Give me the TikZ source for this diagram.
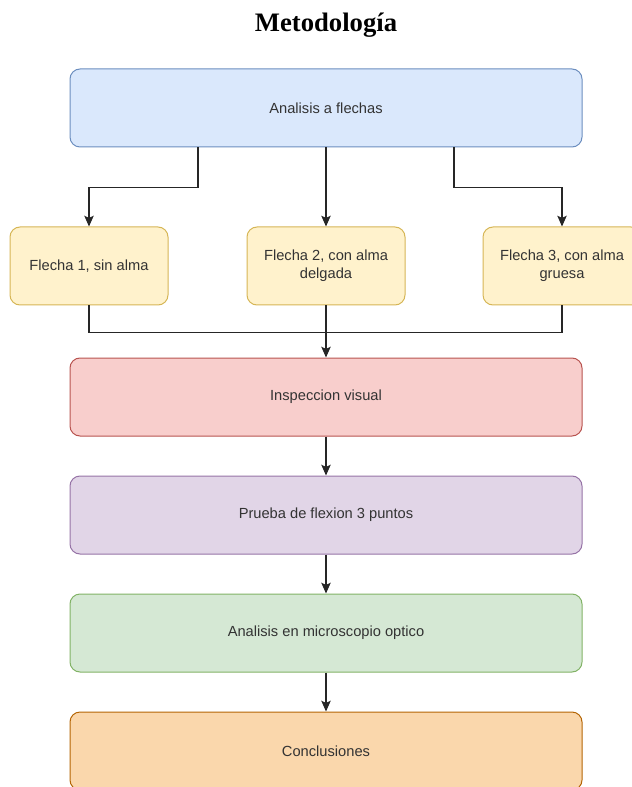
\documentclass[tikz,border=0pt]{standalone}
\usepackage{fontspec}
\setmainfont{Liberation Serif}
\setsansfont{Liberation Sans}
\usepackage{xcolor}
\usetikzlibrary{arrows.meta, positioning, calc}
\definecolor{cblue}{HTML}{DAE8FC}
\definecolor{cbluel}{HTML}{6C8EBF}
\definecolor{cyellow}{HTML}{FFF2CC}
\definecolor{cyellowl}{HTML}{D6B656}
\definecolor{cred}{HTML}{F8CECC}
\definecolor{credl}{HTML}{B85450}
\definecolor{cpurple}{HTML}{E1D5E7}
\definecolor{cpurplel}{HTML}{9673A6}
\definecolor{cgreen}{HTML}{D5E8D4}
\definecolor{cgreenl}{HTML}{82B366}
\definecolor{corange}{HTML}{FAD7AC}
\definecolor{corangel}{HTML}{B46504}
\begin{document}
\begin{tikzpicture}[x=0.75pt, y=-0.75pt,
  caja/.style={rectangle, rounded corners=7.5pt, line width=0.75pt,
    minimum width=384pt, minimum height=58.5pt, align=center,
    font=\fontsize{11}{13.5}\selectfont\sffamily, text=black!80},
  cajaflecha/.style={caja, minimum width=118.5pt, fill=cyellow, draw=cyellowl},
  conn/.style={line width=0.9pt, draw=black!85, -{Stealth[length=8pt, width=7pt, inset=1.5pt]}},
  linea/.style={line width=0.9pt, draw=black!85}]
\useasboundingbox (0,0) rectangle (631,787);
\node[font=\fontsize{20}{24}\selectfont\bfseries] (titulo) at (326,25) {Metodología};
\node[caja, fill=cblue, draw=cbluel] (analisis) at (326,108) {Analisis a flechas};
\node[cajaflecha] (f1) at (89,266) {Flecha 1, sin alma};
\node[cajaflecha] (f2) at (326,266) {Flecha 2, con alma\\delgada};
\node[cajaflecha] (f3) at (562,266) {Flecha 3, con alma\\gruesa};
\node[caja, fill=cred, draw=credl] (inspeccion) at (326,397) {Inspeccion visual};
\node[caja, fill=cpurple, draw=cpurplel] (prueba) at (326,515) {Prueba de flexion 3 puntos};
\node[caja, fill=cgreen, draw=cgreenl] (microscopio) at (326,633) {Analisis en microscopio optico};
\node[caja, fill=corange, draw=corangel] (conclusiones) at (326,751) {Conclusiones};
% ramas
\draw[conn] ([xshift=-96pt]analisis.south) -- ++(0,-30pt) -| (f1.north);
\draw[conn] (analisis.south) -- (f2.north);
\draw[conn] ([xshift=96pt]analisis.south) -- ++(0,-30pt) -| (f3.north);
\draw[linea] (f1.south) -- ++(0,-20.25pt) -| (f3.south);
\draw[conn] (f2.south) -- (inspeccion.north);
% secuencia
\draw[conn] (inspeccion.south) -- (prueba.north);
\draw[conn] (prueba.south) -- (microscopio.north);
\draw[conn] (microscopio.south) -- (conclusiones.north);
\end{tikzpicture}
\end{document}
